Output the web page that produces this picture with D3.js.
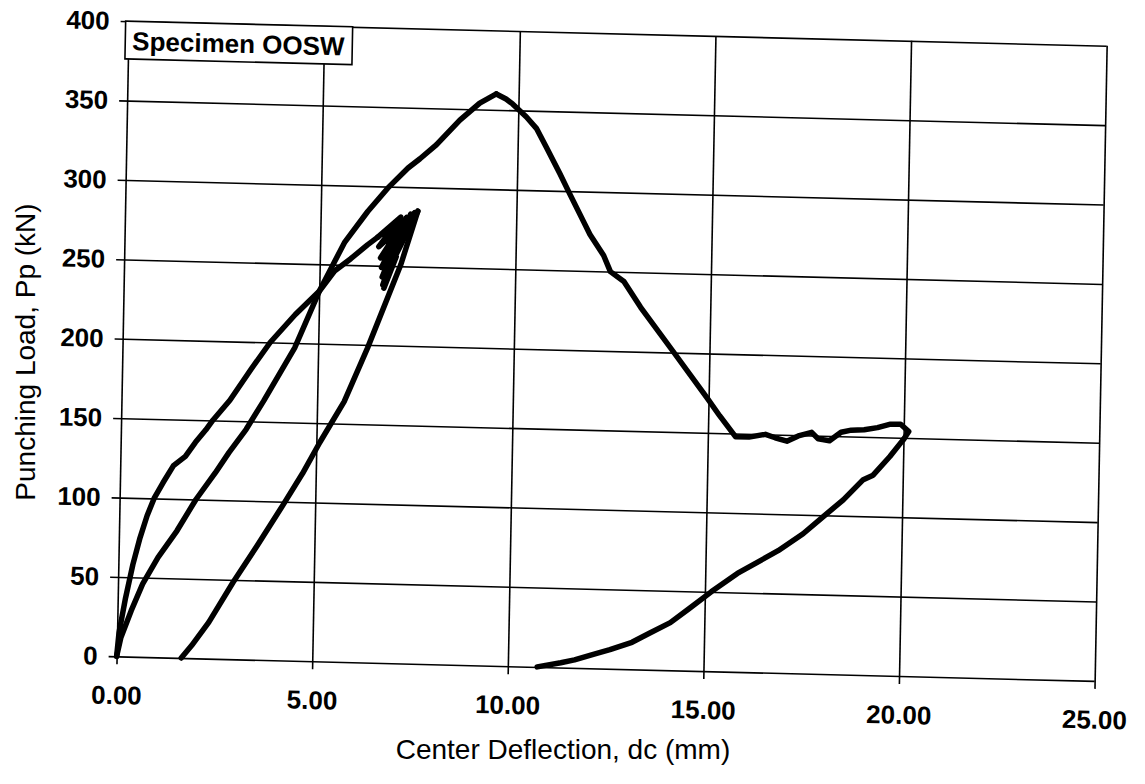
<!DOCTYPE html>
<html>
<head>
<meta charset="utf-8">
<script src="https://cdn.jsdelivr.net/npm/d3@7"></script>
<style>
	body { margin: 0; background: #fff; }
	svg { display: block; font-family: "Liberation Sans", Arial, sans-serif; }
	.axis text { font-size: 26px; font-weight: bold; fill: #000; }
	.axis line { stroke: #000; stroke-width: 1.6px; }
	.axis path { display: none; }
	.curve { fill: none; stroke: #000; stroke-width: 5.5px; stroke-linejoin: round; stroke-linecap: round; }
	.axis-title { font-size: 28px; fill: #000; }
</style>
</head>
<body>
<div id="graphic"></div>
<script>
// tick values
const xTicks = [0, 5, 10, 15, 20, 25];
const yTicks = [0, 50, 100, 150, 200, 250, 300, 350, 400];

// [deflection (mm), load (kN)]
const firstLoad = [
	[0, 0], [0.05, 15], [0.2, 37], [0.37, 58], [0.54, 75], [0.71, 89], [0.88, 100],
	[1.1, 110], [1.36, 121], [1.66, 127], [1.91, 136], [2.17, 144], [2.34, 150],
	[2.77, 163], [3.3, 183], [3.77, 200], [4.4, 218], [5.0, 233], [5.38, 246],
	[5.79, 254], [6.21, 263], [6.47, 268]
];

// load cycles around 7 mm (dense scribble on the scan)
const cycling = [
	[6.47, 268], [7.05, 281], [6.5, 262], [7.1, 276], [6.55, 255], [7.15, 279],
	[6.58, 249], [7.0, 266], [6.6, 243], [7.2, 281], [6.62, 238], [6.95, 256],
	[6.65, 236], [7.3, 283], [6.75, 248], [7.4, 284], [6.9, 255], [7.48, 285]
];

const firstUnload = [
	[7.48, 285], [7.07, 251], [6.26, 198], [5.69, 164], [5.09, 138], [4.66, 118],
	[4.18, 98], [3.54, 72], [2.94, 48.5], [2.34, 23], [1.91, 8], [1.65, 0]
];

const secondLoad = [
	[0, 0], [0.1, 12], [0.35, 29], [0.63, 46], [1.01, 63], [1.48, 80], [1.95, 100],
	[2.43, 117], [2.77, 130], [3.2, 145], [3.63, 163], [4.4, 197], [5.0, 233],
	[5.62, 264], [6.2, 284], [6.7, 299], [7.21, 312], [7.51, 318], [7.92, 327],
	[8.51, 343], [9.01, 354], [9.43, 360]
];

const postPeak = [
	[9.43, 360], [9.68, 357], [9.85, 354], [10.03, 350], [10.21, 346], [10.47, 339],
	[10.74, 327], [11.09, 311], [11.36, 298], [11.72, 281], [11.89, 273], [12.25, 260],
	[12.43, 250], [12.78, 244], [13.22, 228], [14.0, 203], [14.96, 172], [15.29, 161],
	[15.71, 148], [16.05, 148], [16.47, 150], [16.72, 148], [17.02, 146], [17.31, 149.5],
	[17.65, 152], [17.82, 148], [18.11, 147], [18.4, 152.5], [18.66, 154], [18.99, 154.5],
	[19.33, 156], [19.66, 158.4], [19.92, 158.5], [20.13, 154], [20.0, 149]
];

const finalUnload = [
	[20.0, 149], [19.66, 138], [19.24, 126], [18.99, 123], [18.49, 110], [17.98, 99],
	[17.48, 88], [16.85, 77], [16.3, 69], [15.82, 62], [15.16, 50], [14.6, 39],
	[14.13, 30], [13.6, 23], [13.16, 17], [12.6, 12], [12.2, 9], [11.7, 5],
	[11.35, 3], [10.75, 0]
];

const seriesList = [firstLoad, cycling, firstUnload, secondLoad, postPeak, finalUnload];

const specimenLabel = 'Specimen OOSW';
const xAxisLabel = 'Center Deflection, dc (mm)';
const yAxisLabel = 'Punching Load, Pp (kN)';

function drawGraphic() {
	const width = 1145, height = 784;
	const chart_width = 978, chart_height = 639;

	const svg = d3.select('#graphic')
		.append('svg')
		.attr('width', width)
		.attr('height', height);

	svg.append('rect')
		.attr('width', width)
		.attr('height', height)
		.attr('fill', '#fff');

	// the scanned page sits slightly skewed, so the plot group follows it
	const plot = svg.append('g')
		.attr('transform', 'matrix(1,0.0251,-0.0188,0.994,128.65,21.2)');

	const x = d3.scaleLinear().domain([0, 25]).range([0, chart_width]);
	const y = d3.scaleLinear().domain([0, 400]).range([chart_height, 0]);

	// x axis with gridlines
	plot.append('g')
		.attr('class', 'x axis')
		.attr('transform', 'translate(0,' + chart_height + ')')
		.call(
			d3.axisBottom(x)
				.tickValues(xTicks)
				.tickFormat(d3.format('.2f'))
				.tickSize(8)
		)
		.call((g) => g.selectAll('.tick line').attr('y1', -chart_height))
		.call((g) => g.selectAll('.tick text').attr('y', 48).attr('dy', null));

	// y axis with gridlines
	plot.append('g')
		.attr('class', 'y axis')
		.call(
			d3.axisLeft(y)
				.tickValues(yTicks)
				.tickSize(8)
				.tickPadding(11)
		)
		.call((g) => g.selectAll('.tick line').attr('x1', chart_width));

	// curves
	const line = d3.line()
		.x((d) => x(d[0]))
		.y((d) => y(d[1]));

	plot.append('g')
		.selectAll('path')
		.data(seriesList)
		.join('path')
		.attr('class', 'curve')
		.attr('d', line);

	// specimen label box
	const box = plot.append('g').attr('transform', 'translate(-3,0)');
	box.append('rect')
		.attr('width', 227)
		.attr('height', 38)
		.attr('fill', '#fff')
		.attr('stroke', '#000')
		.attr('stroke-width', 1.6);
	box.append('text')
		.attr('x', 7)
		.attr('y', 29)
		.attr('font-size', 26)
		.attr('font-weight', 'bold')
		.text(specimenLabel);

	// axis titles
	svg.append('text')
		.attr('class', 'axis-title')
		.attr('x', 563)
		.attr('y', 759)
		.attr('text-anchor', 'middle')
		.text(xAxisLabel);

	svg.append('text')
		.attr('class', 'axis-title')
		.attr('transform', 'translate(35,352) rotate(-90)')
		.attr('text-anchor', 'middle')
		.text(yAxisLabel);
}

drawGraphic();
</script>
</body>
</html>
